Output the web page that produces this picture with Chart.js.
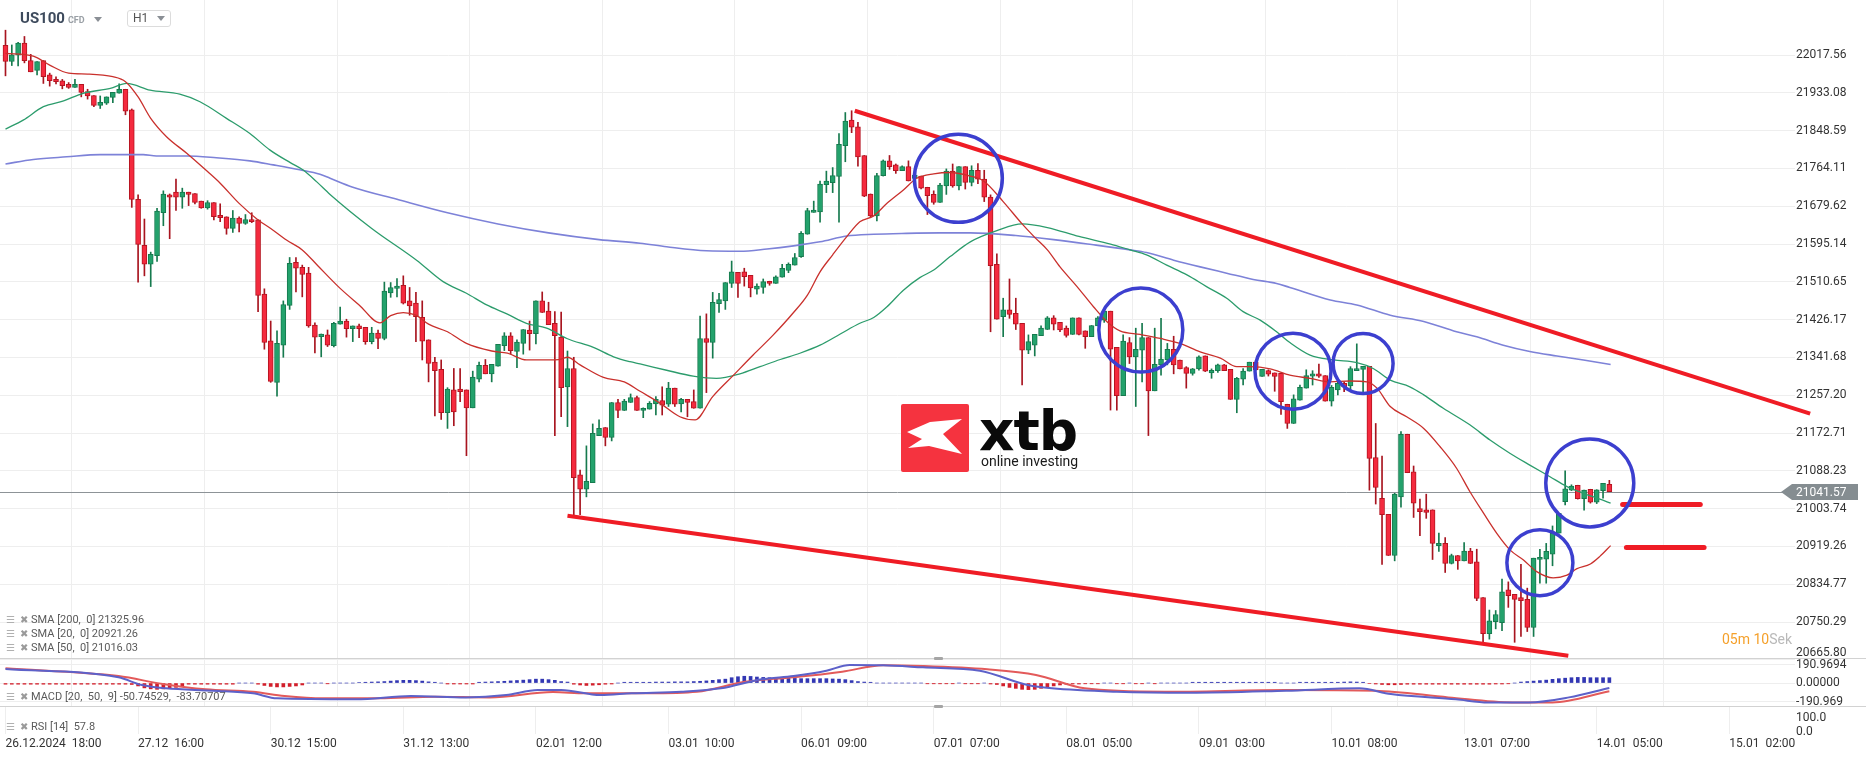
<!DOCTYPE html>
<html>
<head>
<meta charset="utf-8">
<script src="https://cdn.jsdelivr.net/npm/chart.js@4.4.1/dist/chart.umd.min.js"></script>
<style>
html,body{margin:0;padding:0;background:#fff;overflow:hidden;}
body{width:1866px;height:759px;position:relative;font-family:Roboto,"Noto Sans",sans-serif;}
canvas{position:absolute;left:0;}
#mainChart{top:0;}
#macdChart{top:659px;}
#rsiChart{top:707px;}
.sep{position:absolute;left:0;width:1866px;height:1px;background:#d2d2d2;}
.handle{position:absolute;left:934px;width:9px;height:3px;background:#a5a5a5;border-radius:1px;}
.leg{position:absolute;left:6px;font-size:11px;color:#5a5a5a;line-height:14px;white-space:pre;}
.leg .ic{display:inline-block;width:10px;color:#b0b0b0;font-size:10px;margin-right:4px;}
.leg .ix{display:inline-block;width:9px;color:#9a9a9a;font-size:10px;margin-right:2px;}
#sym{position:absolute;left:20px;top:9px;font-size:15px;font-weight:bold;color:#3d4a5c;}
#sym small{font-size:9px;color:#9aa0a6;font-weight:bold;margin-left:3px;}
.tri{display:inline-block;width:0;height:0;border-left:4px solid transparent;border-right:4px solid transparent;border-top:5px solid #8a8f95;vertical-align:middle;}
#tf{position:absolute;left:127px;top:10px;width:42px;height:15px;border:1px solid #dcdcdc;border-radius:3px;background:#fff;font-size:12px;color:#555;line-height:15px;}
#tf span.t{position:absolute;left:5px;top:0;}
#tf .tri{position:absolute;right:5px;top:5px;}
#logo{position:absolute;left:901px;top:404px;width:68px;height:68px;background:#f5333f;border-radius:2px;}
#logoTxt{position:absolute;left:979px;top:404px;font-family:"DejaVu Sans",sans-serif;font-weight:bold;font-size:55px;line-height:55px;color:#0a0a0a;letter-spacing:-1px;}
#logoSub{position:absolute;left:981px;top:454px;font-size:14px;line-height:14px;color:#1a1a1a;}
#timer{position:absolute;left:1722px;top:631px;font-size:14px;line-height:16px;}
</style>
</head>
<body>
<canvas id="mainChart" width="1866" height="660"></canvas>
<canvas id="macdChart" width="1866" height="47"></canvas>
<canvas id="rsiChart" width="1866" height="52"></canvas>
<div class="sep" style="top:658px"></div>
<div class="sep" style="top:706px"></div>
<div class="handle" style="top:657px"></div>
<div class="handle" style="top:705px"></div>

<div id="sym">US100<small>CFD</small> <span class="tri" style="margin-left:6px"></span></div>
<div id="tf"><span class="t">H1</span><span class="tri"></span></div>

<div class="leg" style="top:613px"><span class="ic">&#9776;</span><span class="ix">&#10006;</span>SMA [200,  0] 21325.96</div>
<div class="leg" style="top:627px"><span class="ic">&#9776;</span><span class="ix">&#10006;</span>SMA [20,  0] 20921.26</div>
<div class="leg" style="top:641px"><span class="ic">&#9776;</span><span class="ix">&#10006;</span>SMA [50,  0] 21016.03</div>
<div class="leg" style="top:690px"><span class="ic">&#9776;</span><span class="ix">&#10006;</span>MACD [20,  50,  9] -50.74529,  -83.70707</div>
<div class="leg" style="top:720px"><span class="ic">&#9776;</span><span class="ix">&#10006;</span>RSI [14]  57.8</div>

<div id="logo"><svg width="68" height="68" viewBox="0 0 68 68"><polygon points="6,28 29,18 61,15 42,30 61,50 28,42 7,44 21,35" fill="#fff"/></svg></div>
<div id="logoTxt">xtb</div>
<div id="logoSub">online investing</div>

<div id="timer"><span style="color:#f5a02a">05m</span> <span style="color:#f5a02a">10</span><span style="color:#b9b9b9">Sek</span></div>

<script>
// x axis: candle index, one tick every 21 hourly candles
const xLabels = ['26.12.2024  18:00','27.12  16:00','30.12  15:00','31.12  13:00','02.01  12:00','03.01  10:00','06.01  09:00','07.01  07:00','08.01  05:00','09.01  03:00','10.01  08:00','13.01  07:00','14.01  05:00','15.01  02:00'];
const xTickIdx = [0,21,42,63,84,105,126,147,168,189,210,231,252,273];
const xMin = -0.87;
const xMax = 283.4;

const priceTicks = [22017.56,21933.08,21848.59,21764.11,21679.62,21595.14,21510.65,21426.17,21341.68,21257.20,21172.71,21088.23,21003.74,20919.26,20834.77,20750.29,20665.80];
const priceMin = 20665.4;
const priceMax = 22140.5;
const lastPrice = 21041.57;

const openP = [
22039,22003,22017,22044,22005,21983,22005,21973,21963,21960,
21952,21945,21952,21936,21927,21905,21910,21923,21932,21941,
21895,21695,21592,21550,21569,21665,21705,21711,21700,21711,
21708,21691,21676,21688,21659,21656,21630,21653,21641,21650,
21649,21483,21379,21286,21369,21458,21554,21543,21530,21414,
21388,21392,21368,21416,21423,21406,21412,21409,21377,21396,
21384,21486,21496,21503,21468,21463,21431,21381,21331,21315,
21218,21269,21271,21269,21229,21293,21324,21305,21322,21368,
21390,21355,21373,21403,21395,21468,21445,21418,21387,21276,
21317,21079,21047,21062,21167,21185,21163,21241,21223,21241,
21252,21223,21226,21238,21245,21237,21273,21238,21248,21243,
21228,21384,21375,21462,21468,21507,21532,21533,21525,21494,
21498,21512,21507,21521,21536,21548,21567,21617,21666,21667,
21728,21732,21746,21815,21872,21857,21793,21707,21658,21748,
21781,21772,21759,21768,21742,21747,21722,21706,21688,21725,
21758,21725,21768,21733,21760,21740,21700,21550,21433,21448,
21440,21418,21358,21369,21390,21404,21430,21420,21407,21393,
21430,21401,21388,21412,21425,21445,21364,21256,21375,21343,
21358,21386,21267,21325,21336,21360,21336,21319,21306,21316,
21345,21307,21312,21325,21315,21248,21293,21311,21331,21299,
21312,21307,21306,21237,21194,21246,21273,21300,21305,21301,
21244,21269,21284,21278,21312,21315,21322,21118,21027,20991,
20899,21030,21170,21086,21004,21001,21001,20921,20926,20881,
20899,20887,20909,20885,20805,20724,20751,20749,20822,20812,
20805,20801,20738,20890,20891,20902,20949,21019,21045,21056,
21026,21047,21018,21044,21058];

const highP = [
22073,22040,22046,22059,22019,22003,22005,21977,21969,21963,
21956,21963,21952,21941,21927,21926,21924,21934,21953,21941,
21897,21705,21651,21577,21675,21714,21707,21740,21720,21711,
21708,21691,21692,21688,21685,21656,21670,21656,21661,21665,
21649,21495,21423,21401,21468,21565,21565,21548,21543,21419,
21394,21403,21420,21454,21427,21412,21416,21409,21409,21403,
21510,21509,21518,21524,21498,21487,21468,21381,21342,21336,
21274,21317,21317,21269,21311,21331,21337,21326,21371,21397,
21397,21381,21404,21423,21468,21488,21465,21444,21443,21356,
21342,21090,21144,21193,21202,21185,21241,21248,21248,21260,
21255,21229,21243,21254,21276,21286,21273,21250,21248,21269,
21434,21439,21487,21485,21509,21557,21532,21541,21525,21506,
21517,21512,21524,21550,21553,21574,21623,21675,21691,21736,
21758,21766,21842,21889,21893,21867,21793,21707,21753,21783,
21793,21774,21770,21781,21752,21747,21722,21714,21731,21763,
21774,21768,21768,21770,21775,21760,21705,21573,21474,21517,
21474,21418,21392,21393,21412,21433,21435,21420,21412,21430,
21430,21401,21413,21433,21448,21445,21364,21392,21386,21407,
21418,21386,21407,21429,21373,21389,21336,21321,21317,21345,
21345,21316,21327,21326,21315,21297,21317,21331,21335,21315,
21314,21307,21306,21237,21258,21280,21314,21312,21327,21301,
21279,21289,21287,21321,21372,21322,21322,21194,21121,20991,
21038,21176,21170,21099,21025,21036,21001,20949,20939,20902,
20899,20928,20915,20913,20805,20777,20776,20846,20840,20812,
20879,20826,20893,20913,20926,20965,20993,21088,21057,21056,
21045,21047,21046,21060,21067];

const lowP = [
21971,21994,21993,22000,21980,21973,21954,21948,21953,21942,
21943,21945,21924,21919,21902,21898,21907,21911,21932,21884,
21677,21510,21524,21500,21556,21636,21607,21670,21675,21681,
21685,21675,21673,21649,21645,21617,21621,21622,21639,21643,
21444,21360,21286,21255,21342,21449,21488,21477,21409,21352,
21343,21366,21365,21416,21387,21377,21386,21371,21372,21361,
21381,21476,21477,21461,21436,21377,21336,21287,21211,21203,
21183,21189,21243,21122,21229,21287,21305,21287,21322,21357,
21349,21319,21349,21358,21372,21442,21415,21167,21209,21187,
20986,20990,21030,21062,21167,21144,21155,21207,21223,21241,
21223,21207,21226,21213,21213,21232,21232,21220,21209,21228,
21228,21263,21340,21442,21449,21498,21476,21501,21477,21483,
21485,21503,21507,21521,21531,21548,21565,21617,21666,21644,
21710,21710,21644,21779,21844,21769,21701,21656,21647,21747,
21762,21753,21759,21736,21737,21718,21661,21684,21688,21706,
21722,21716,21718,21725,21730,21690,21399,21427,21388,21429,
21404,21280,21350,21345,21390,21404,21403,21399,21387,21393,
21392,21362,21388,21412,21420,21224,21224,21256,21328,21232,
21287,21167,21267,21302,21325,21305,21316,21273,21302,21313,
21310,21295,21308,21312,21248,21218,21280,21311,21314,21299,
21300,21266,21214,21183,21194,21246,21273,21280,21297,21244,
21233,21258,21265,21270,21312,21259,21045,21014,20879,20899,
20887,21007,21084,20984,20943,20982,20890,20908,20861,20880,
20868,20887,20881,20798,20701,20712,20735,20731,20783,20705,
20718,20729,20718,20837,20837,20876,20949,21012,21044,21025,
21000,21016,21015,21027,21042];

const closeP = [
22003,22018,22044,22005,21980,22003,21969,21960,21958,21949,
21945,21952,21934,21926,21905,21912,21924,21934,21941,21892,
21695,21594,21550,21572,21669,21707,21700,21700,21711,21706,
21688,21676,21688,21656,21654,21630,21653,21641,21650,21645,
21480,21375,21288,21373,21460,21552,21541,21527,21412,21387,
21394,21369,21418,21423,21406,21412,21406,21377,21396,21384,
21490,21498,21501,21463,21457,21433,21378,21328,21312,21218,
21271,21220,21265,21229,21298,21324,21305,21326,21371,21390,
21357,21376,21404,21395,21468,21442,21415,21390,21274,21317,
21073,21047,21065,21172,21183,21163,21241,21223,21244,21252,
21223,21228,21239,21248,21235,21273,21237,21248,21241,21228,
21384,21375,21465,21471,21509,21533,21507,21522,21497,21501,
21511,21507,21522,21541,21550,21565,21619,21670,21671,21729,
21736,21748,21818,21870,21856,21790,21702,21658,21748,21781,
21768,21759,21768,21736,21749,21720,21703,21688,21727,21758,
21725,21768,21733,21760,21740,21700,21547,21427,21448,21438,
21416,21358,21377,21393,21407,21430,21416,21403,21391,21430,
21393,21388,21413,21430,21445,21360,21256,21378,21343,21360,
21386,21267,21326,21338,21360,21325,21316,21306,21316,21343,
21311,21313,21325,21312,21248,21295,21311,21331,21314,21315,
21304,21299,21243,21194,21249,21275,21301,21305,21300,21244,
21275,21284,21276,21317,21317,21322,21116,21051,20990,20899,
21036,21170,21084,21016,20997,20995,20926,20926,20881,20899,
20887,20909,20881,20803,20724,20753,20767,20818,20809,20801,
20798,20738,20893,20895,20908,20949,20993,21048,21054,21026,
21045,21018,21046,21060,21041.57];

// moving averages (candle index, price)
const sma20Idx = [0,4.4,7,10,13,17,19,21,23,25.5,28.7,32,34,37,40,42,44.5,47,49.5,53,56,59.3,61,63,65,67,70,73,77,79.5,82.5,85.7,88,89,91,94.7,98,100.5,103.7,106.8,109.2,112,115.3,118.4,121.6,124.8,127,129,131,133.2,135.3,137.5,139.6,142.2,144.3,147,149.6,152.8,155,158,161,163,165,167,169.7,172.3,174.4,176.5,179.7,182.9,186,189.2,192.4,195,197,200.3,203.4,206.6,209.8,212.9,215.6,217.2,219.3,221.9,224.6,227.2,229.8,231.9,234.1,236.2,238.3,240.4,242.5,245.1,247.3,248.8,251,252.5,254.2];
const sma20Val = [22021,22015,21995,21977,21975,21969,21958,21924,21876,21835,21798,21757,21731,21686,21649,21630,21604,21582,21546,21496,21459,21419,21435,21442,21436,21416,21399,21373,21356,21351,21336,21336,21338,21342,21325,21297,21287,21266,21239,21209,21202,21254,21302,21347,21392,21442,21481,21533,21571,21611,21645,21658,21686,21716,21742,21752,21755,21747,21735,21690,21640,21610,21582,21544,21500,21455,21422,21401,21393,21384,21373,21354,21340,21321,21321,21316,21302,21295,21287,21289,21287,21273,21232,21209,21183,21142,21094,21042,20993,20948,20911,20889,20863,20849,20855,20869,20880,20897,20921];

const sma50Idx = [0,2.8,6,9.2,12.3,16.6,19.2,22.9,27.6,30.8,35,38.7,41.9,45.1,47.2,49.3,51.4,58,65.1,69.3,73,76.2,79.4,82.5,85.7,88.9,93.1,96.3,98.9,100.5,104.7,108.9,112.6,116.3,119.5,122.7,125.8,129,132.2,135.3,137.5,139.6,142.2,144.8,147,149.6,152.8,157,161,165,170,175,178.1,180.7,183.9,187.1,190.2,193.4,196,198.7,201.3,203.4,206.6,210.3,214,216.6,219.3,222.4,224.6,227.7,231.9,235.1,238.3,241.4,244.6,247.3,249.9,252.5,254.2];
const sma50Val = [21852,21872,21902,21915,21932,21943,21954,21939,21930,21913,21876,21842,21805,21777,21760,21734,21706,21630,21559,21511,21485,21459,21439,21418,21407,21384,21364,21343,21332,21327,21313,21300,21295,21305,21321,21337,21351,21369,21394,21418,21431,21455,21492,21520,21537,21567,21600,21625,21640,21632,21612,21595,21582,21571,21548,21526,21500,21474,21444,21425,21399,21375,21347,21336,21330,21317,21291,21276,21258,21228,21191,21157,21127,21101,21075,21053,21038,21025,21016];

const sma200Idx = [0,4.4,9.7,15,21.8,23.9,28.7,33.4,38.7,42.4,46.6,49.8,51.4,55,62,70,78,86,94,100.5,104.7,111,116.3,120.6,124.8,129,133.2,137.5,142.7,148,152.8,160,166,172,178.1,180.7,185,189.2,193.4,197.6,201.3,203.4,209.8,214,219.3,224.6,229.8,233,237.2,241.4,245.7,249.9,254.2];
const sma200Val = [21774,21784,21790,21795,21795,21792,21792,21788,21781,21772,21761,21751,21742,21722,21695,21665,21640,21620,21605,21597,21589,21580,21579,21584,21591,21600,21613,21617,21619,21620,21620,21614,21605,21594,21582,21576,21559,21544,21530,21516,21507,21498,21470,21459,21436,21422,21399,21388,21369,21355,21345,21336,21326];

// hand drawn marks on the chart
const upperLineIdx = [134.5, 285.8];
const upperLinePrice = [21893, 21216];
const lowerLineIdx = [89, 247.5];
const lowerLinePrice = [20988, 20675];
const markAIdx = [256.1, 268.4];
const markAPrice = [21013, 21013];
const markBIdx = [256.7, 269];
const markBPrice = [20917, 20917];
const circleIdx = [150.9, 179.8, 203.9, 215.0, 250.9, 243.0];
const circlePrice = [21742, 21403, 21311, 21328, 21061, 20883];

// MACD panel
const macdTicks = [190.9694, 0, -190.969];
const macdTickLabels = ['190.9694', '0.00000', '-190.969'];
const macdMin = -237;
const macdMax = 248;
const macdIdx = [0,17.9,21.6,25.4,32.9,39.2,43,55.5,64.2,72.9,79.3,84.3,88,94.2,99.2,107,113.3,119.7,124.8,130,133.7,139,145.3,154.3,161.9,165.7,176,187.5,202.8,214.4,219.4,229.7,234.8,241.2,247.6,254];
const macdVal = [144,59,-21,-55,-79,-106,-158,-168,-134,-148,-124,-72,-72,-124,-106,-90,-55,38,72,127,186,183,162,127,-21,-55,-90,-100,-79,-55,-114,-168,-200,-200,-148,-50.7];
const signalIdx = [0,17.9,24.9,31.7,39.2,44.2,50.4,59.2,68,76.7,86.7,91.8,101.8,109.5,117.1,124.8,132.5,139,145.3,155.5,163.2,170.9,183.6,202.8,216.9,228.5,238.6,245,254];
const signalVal = [152,72,-10,-65,-90,-134,-158,-158,-141,-148,-93,-106,-106,-90,13,59,117,183,175,141,83,-55,-90,-72,-79,-148,-200,-200,-83.7];
const macdHist = [
-12,-12,-12,-12,-12,-12,-12,-12,-12,-12,-12,-12,-12,-12,-12,-12,-12,-12,-12,-12,
-15,-30,-50,-60,-65,-60,-55,-45,-35,
-12,-12,-12,-12,-12,-12,-12,-12,
0,0,0,
-12,-25,-35,-40,-40,-35,-30,-20,
0,0,0,-8,0,0,0,0,
5,8,10,12,15,20,25,28,28,25,20,12,8,
0,-10,-10,-10,-10,-10,
8,10,12,15,18,22,26,30,35,40,40,35,28,15,10,
-12,-20,-25,-22,-18,-12,-10,
0,
8,8,8,8,8,10,10,10,12,12,12,15,18,22,28,35,
40,55,65,70,68,62,58,55,52,50,48,48,45,45,45,45,45,42,40,35,25,15,10,8,
0,0,0,0,0,0,0,0,
-8,-8,-8,-8,-8,0,-8,-8,-8,0,-10,
-15,-30,-45,-55,-65,-68,-65,-55,-40,-30,-20,
-12,-10,-10,-8,-8,-8,0,
0,-8,-8,0,-8,-8,0,-8,
0,0,0,0,0,
8,8,8,8,8,8,8,8,8,8,8,8,8,8,0,
0,0,
8,8,8,8,8,8,8,10,12,10,8,
-5,-10,-15,-18,-18,-15,-12,-12,-12,-12,-12,-12,-12,-12,-12,-12,-12,-12,-12,-12,-10,-10,-8,0,
10,15,20,25,30,38,45,50,55,58,58,55,55,55,55];

// RSI panel
const rsiIdx = [0.1,2,2.9,6.6,11.6,14.1,17.9,19.8,21.7,23.5,24.8,26.7,31.7,34.2,39.2,42,44.2,45.5,48,54.2,57.4,59.2,61.7,66.7,68.9,70.5,73,78,81.8,84.3,86.8,88,90.5,93,94.9,96.8,101.8,108.2,110.1,113.3,119.7,126.1,133.2,137,140.2,146.6,154.3,156.8,161.9,168.3,176,178.6,183.6,196.5,202.8,206.7,214.4,216.9,219.4,222,228.5,234.8,241.2,242.5,247.6,254];
const rsiVal = [59,61,56,53,48,41,48,28,22,28,39,41,41,36,36,22,39,48,36,36,39,50,50,39,30,37,44,50,52,61,52,44,30,39,44,48,50,50,63,70,63,70,83,59,63,53,53,37,30,39,44,33,48,48,39,50,56,33,22,48,39,33,39,50,61,57.8];
const rsiTicks = [100, 0];
const rsiTickLabels = ['100.0', '0.0'];

const gridColor = '#eeeeee';
const tickFont = {family:'Roboto', size:12};

function pts(xs, ys){
  return xs.map((x,i)=>({x:x, y:ys[i]}));
}

function xAxis(showLabels){
  return {
    type:'linear',
    min:xMin,
    max:xMax,
    offset:false,
    border:{display:false},
    grid:{color:gridColor, drawTicks:false},
    afterBuildTicks:function(s){ s.ticks = xTickIdx.map(v=>({value:v})); },
    ticks:{
      display:showLabels,
      align:'start',
      autoSkip:false,
      maxRotation:0,
      padding:3,
      color:'#333',
      font:tickFont,
      callback:function(v,i){ return xLabels[i]; }
    },
    afterFit:function(s){
      s.height = showLabels ? 25 : 0;
      s.paddingLeft = 0; s.paddingRight = 0;
    }
  };
}

// a hidden axis must not take any room, or the panel's x scale shrinks
function yAxis(min, max, ticks, labels, show){
  return {
    position:'right',
    display:show,
    min:min,
    max:max,
    border:{display:false},
    grid:{color:gridColor, drawTicks:false},
    afterBuildTicks:function(s){ s.ticks = ticks.map(v=>({value:v})); },
    ticks:{
      color:'#333',
      font:tickFont,
      padding:1,
      autoSkip:false,
      callback:function(v,i){ return labels[i]; }
    },
    afterFit:function(s){
      s.width = show ? 71 : 0;
      s.paddingTop = 0; s.paddingBottom = 0;
    }
  };
}

const baseOptions = {
  responsive:false,
  animation:false,
  events:[],
  layout:{padding:0, autoPadding:false},
  plugins:{legend:{display:false}, tooltip:{enabled:false}}
};

const isUp = closeP.map((c,i)=> c >= openP[i]);
const priceLabels = priceTicks.map(v=>v.toFixed(2));
const bottomLabel = priceLabels[priceLabels.length - 1];

// current price line and tag; the lowest price label sits just above the panel edge
const priceLinePlugin = {
  id:'priceLine',
  beforeDatasetsDraw:function(chart){
    const ctx = chart.ctx;
    const area = chart.chartArea;
    const py = Math.round(chart.scales.y.getPixelForValue(lastPrice)) + 0.5;
    ctx.save();
    ctx.strokeStyle = '#8d9397';
    ctx.lineWidth = 1;
    ctx.beginPath();
    ctx.moveTo(area.left, py);
    ctx.lineTo(area.right, py);
    ctx.stroke();
    ctx.restore();
  },
  afterDraw:function(chart){
    const ctx = chart.ctx;
    const area = chart.chartArea;
    const py = Math.round(chart.scales.y.getPixelForValue(lastPrice));
    const tip = area.right - 14;
    const x1 = area.right - 3;
    const x2 = chart.width - 8;
    ctx.save();
    ctx.fillStyle = '#858d91';
    ctx.beginPath();
    ctx.moveTo(tip, py);
    ctx.lineTo(x1, py - 8);
    ctx.lineTo(x2, py - 8);
    ctx.lineTo(x2, py + 8);
    ctx.lineTo(x1, py + 8);
    ctx.closePath();
    ctx.fill();
    ctx.font = '12px Roboto';
    ctx.textAlign = 'left';
    ctx.textBaseline = 'middle';
    ctx.fillStyle = '#fff';
    ctx.fillText(lastPrice.toFixed(2), area.right + 1, py + 1);
    ctx.fillStyle = '#333';
    ctx.textBaseline = 'bottom';
    ctx.fillText(bottomLabel, area.right + 1, area.bottom - 1);
    ctx.restore();
  }
};

// RSI labels drawn on the label axis so both always show
const rsiLabelPlugin = {
  id:'rsiLabels',
  afterDraw:function(chart){
    const ctx = chart.ctx;
    const s = chart.scales.y;
    ctx.save();
    ctx.font = '12px Roboto';
    ctx.fillStyle = '#333';
    ctx.textAlign = 'left';
    ctx.textBaseline = 'middle';
    rsiTicks.forEach((v,i)=>{
      ctx.fillText(rsiTickLabels[i], chart.chartArea.right + 1, s.getPixelForValue(v) + 2);
    });
    ctx.restore();
  }
};

const mainChart = new Chart(
document.getElementById('mainChart'),
{
type:'bar',
data:{
datasets:[
{
type:'bubble',
data:pts(circleIdx, circlePrice),
radius:[44,42,38,30,44,33],
backgroundColor:'rgba(0,0,0,0)',
borderColor:'#3c3fcf',
borderWidth:3.5,
order:0
},
{
type:'line',
data:pts(upperLineIdx, upperLinePrice),
borderColor:'#ef1c25',
borderWidth:4,
pointRadius:0,
clip:false,
order:1
},
{
type:'line',
data:pts(lowerLineIdx, lowerLinePrice),
borderColor:'#ef1c25',
borderWidth:4,
pointRadius:0,
order:1
},
{
type:'line',
data:pts(markAIdx, markAPrice),
borderColor:'#ef1c25',
borderWidth:5,
borderCapStyle:'round',
pointRadius:0,
order:1
},
{
type:'line',
data:pts(markBIdx, markBPrice),
borderColor:'#ef1c25',
borderWidth:5,
borderCapStyle:'round',
pointRadius:0,
order:1
},
{
type:'line',
data:pts(sma20Idx, sma20Val),
borderColor:'#c9302c',
borderWidth:1.3,
pointRadius:0,
cubicInterpolationMode:'monotone',
order:2
},
{
type:'line',
data:pts(sma50Idx, sma50Val),
borderColor:'#2c9c6c',
borderWidth:1.3,
pointRadius:0,
cubicInterpolationMode:'monotone',
order:3
},
{
type:'line',
data:pts(sma200Idx, sma200Val),
borderColor:'#7d82d8',
borderWidth:1.6,
pointRadius:0,
cubicInterpolationMode:'monotone',
order:4
},
{
type:'bar',
data:openP.map((o,i)=>({x:i, y:[o, closeP[i]]})),
backgroundColor:isUp.map(u=> u ? '#23a26c' : '#f42a3e'),
borderColor:isUp.map(u=> u ? '#167a4e' : '#b51420'),
borderWidth:1,
borderSkipped:false,
barThickness:5,
minBarLength:1,
grouped:false,
order:5
},
{
type:'bar',
data:lowP.map((l,i)=>({x:i, y:[l, highP[i]]})),
backgroundColor:isUp.map(u=> u ? '#167a4e' : '#a8141f'),
barThickness:1,
grouped:false,
order:6
}
]
},
options:Object.assign({}, baseOptions, {
scales:{
x:xAxis(false),
y:yAxis(priceMin, priceMax, priceTicks, priceLabels.map((l,i)=> i === priceLabels.length - 1 ? '' : l), true)
}
}),
plugins:[priceLinePlugin]
}
);

const macdChart = new Chart(
document.getElementById('macdChart'),
{
type:'bar',
data:{
datasets:[
{
type:'line',
data:pts(macdIdx, macdVal),
borderColor:'#5d61c9',
borderWidth:2,
pointRadius:0,
cubicInterpolationMode:'monotone',
order:0
},
{
type:'line',
data:pts(signalIdx, signalVal),
borderColor:'#e35a5a',
borderWidth:2,
pointRadius:0,
cubicInterpolationMode:'monotone',
order:1
},
{
type:'bar',
data:macdHist.map((v,i)=>({x:i, y:v})),
backgroundColor:macdHist.map(v=> v >= 0 ? '#3237b3' : '#d21f2b'),
barThickness:3,
grouped:false,
order:2
}
]
},
options:Object.assign({}, baseOptions, {
scales:{
x:xAxis(false),
y:yAxis(macdMin, macdMax, macdTicks, macdTickLabels, true)
}
})
}
);

const rsiChart = new Chart(
document.getElementById('rsiChart'),
{
type:'line',
data:{
datasets:[
{
data:pts(rsiIdx, rsiVal),
yAxisID:'r',
borderColor:'#e36464',
borderWidth:2,
pointRadius:0,
cubicInterpolationMode:'monotone'
}
]
},
options:Object.assign({}, baseOptions, {
scales:{
x:xAxis(true),
r:yAxis(0, 100, [], [], false),
y:Object.assign(yAxis(-26.8, 168.8, rsiTicks, ['', ''], true), {grid:{display:false}})
}
}),
plugins:[rsiLabelPlugin]
}
);
</script>
</body>
</html>
